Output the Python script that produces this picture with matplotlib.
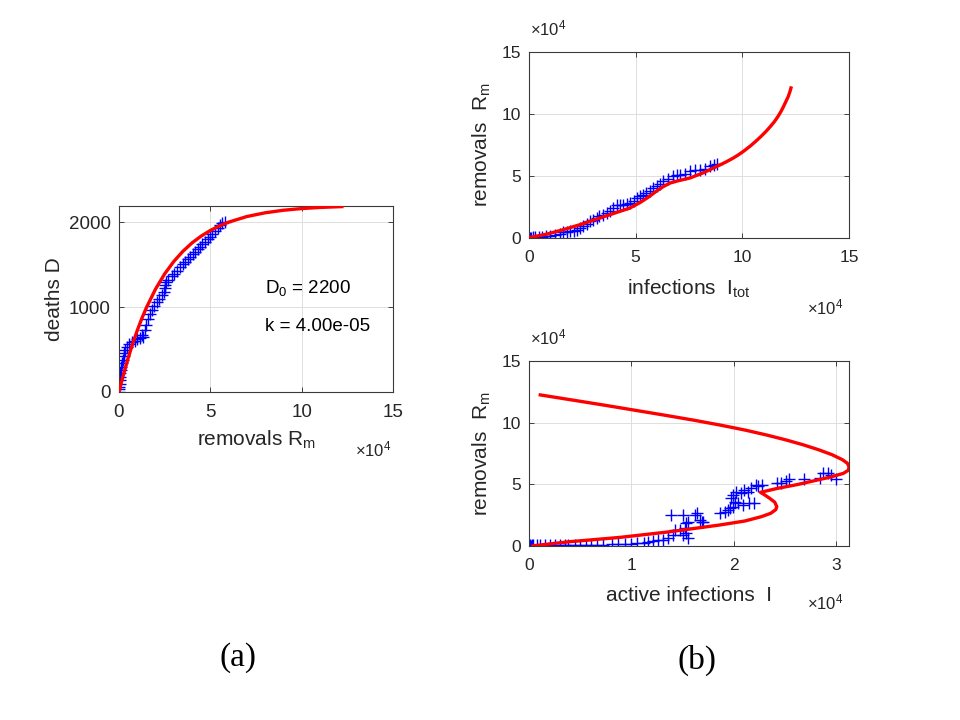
import matplotlib
matplotlib.use("Agg")
import matplotlib.pyplot as plt

plt.rcParams['font.family'] = ['Liberation Sans', 'DejaVu Sans']
plt.rcParams['mathtext.fontset'] = 'custom'
plt.rcParams['mathtext.rm'] = 'Liberation Sans'
plt.rcParams['mathtext.it'] = 'Liberation Sans:italic'

# ---------------- data (x-values in units of 10^4) ----------------
# panel (a): deaths D vs removals Rm
Rm_a = [0.0, 0.01, 0.02, 0.03, 0.04, 0.06, 0.08, 0.10, 0.12, 0.15, 0.20, 0.25, 0.30, 0.35,
        0.45, 0.55, 0.70, 0.85, 1.00, 1.15, 1.24, 1.33, 1.42, 1.50, 1.60, 1.70, 1.80, 1.90,
        2.06, 2.20, 2.34, 2.45, 2.52, 2.52, 2.60, 2.70, 2.88, 3.00, 3.16, 3.34, 3.50, 3.61,
        3.75, 3.89, 4.05, 4.16, 4.30, 4.43, 4.57, 4.71, 4.85, 4.98, 5.10, 5.25, 5.40, 5.53,
        5.65, 5.80]
D_a = [0, 30, 60, 100, 140, 180, 220, 260, 300, 340, 380, 420, 460, 500,
       530, 560, 590, 605, 620, 640, 670, 650, 730, 790, 860, 920, 970, 1010,
       1060, 1100, 1140, 1180, 1220, 1260, 1290, 1320, 1360, 1390, 1420, 1470, 1510, 1535,
       1565, 1590, 1625, 1650, 1680, 1710, 1740, 1770, 1800, 1830, 1860, 1900, 1935, 1965,
       1985, 2005]
Rm_fit_a = [0, 0.1, 0.25, 0.5, 0.75, 1.0, 1.25, 1.5, 2.0, 2.5, 3.0, 3.5, 4.0, 4.5, 5.0,
            5.5, 6.0, 7.0, 8.0, 9.0, 10.0, 11.0, 12.2]
D_fit_a = [0, 86, 209, 399, 570, 725, 866, 993, 1212, 1391, 1537, 1657, 1756, 1836, 1902,
           1956, 2000, 2066, 2110, 2140, 2160, 2173, 2183]

# panel (b) top: removals Rm vs total infections Itot
Itot_b = [0.0, 0.05, 0.10, 0.20, 0.30, 0.45, 0.60, 0.80, 1.00, 1.20, 1.45, 1.61, 1.80, 1.92,
          2.10, 2.23, 2.40, 2.55, 2.70, 2.86, 3.00, 3.17, 3.30, 3.48, 3.65, 3.80, 3.95, 4.11,
          4.25, 4.42, 4.60, 4.73, 4.90, 5.05, 5.20, 5.36, 5.50, 5.67, 5.83, 5.98, 6.15, 6.30,
          6.50, 6.77, 6.95, 7.08, 7.30, 7.55, 7.80, 8.02, 8.25, 8.49, 8.65, 8.80]
Rm_b = [0.0, 0.02, 0.04, 0.05, 0.08, 0.10, 0.12, 0.15, 0.20, 0.25, 0.30, 0.45, 0.50, 0.53,
        0.60, 0.67, 0.80, 0.94, 1.10, 1.34, 1.45, 1.61, 1.75, 1.88, 2.00, 2.15, 2.40, 2.69,
        2.70, 2.69, 2.75, 2.82, 3.00, 3.22, 3.35, 3.49, 3.60, 3.76, 4.03, 4.16, 4.35, 4.57,
        4.75, 4.97, 5.05, 5.11, 5.20, 5.37, 5.45, 5.51, 5.60, 5.78, 5.85, 5.95]
Itot_fit_b = [0.05, 0.8, 1.61, 2.4, 3.17, 3.95, 4.73, 5.2, 5.6, 5.99, 6.3, 6.61, 7.0, 7.55,
              8.2, 8.8, 9.2, 9.555, 9.81, 10.06, 10.36, 10.63, 10.88, 11.11, 11.32, 11.51,
              11.67, 11.81, 11.93, 12.04, 12.15, 12.23, 12.28]
Rm_fit_b = [0.05, 0.3, 0.67, 1.08, 1.53, 1.97, 2.42, 2.85, 3.3, 3.8, 4.15, 4.43, 4.62, 4.84,
            5.28, 5.77, 6.1, 6.43, 6.7, 7.0, 7.4, 7.8, 8.2, 8.6, 9.0, 9.4,
            9.8, 10.2, 10.6, 11.0, 11.4, 11.8, 12.1]

# panel (b) bottom: removals Rm vs active infections I
I_c = [0.0, 0.005, 0.01, 0.02, 0.03, 0.04, 0.075, 0.107, 0.156, 0.205, 0.254, 0.302, 0.351,
       0.38, 0.449, 0.50, 0.56, 0.61, 0.66, 0.72, 0.81, 0.87, 0.94, 1.00, 1.05, 1.12, 1.16,
       1.21, 1.26, 1.31, 1.36, 1.41, 1.424, 1.47, 1.505, 1.52, 1.538, 1.554, 1.538, 1.55,
       1.385, 1.506, 1.62, 1.636, 1.668, 1.685, 1.70, 1.863, 1.91, 1.94, 1.96, 1.99, 2.01,
       2.04, 2.09, 2.15, 2.20, 1.977, 1.99, 2.026, 2.07, 2.10, 2.14, 2.17, 2.22, 2.24, 2.28,
       2.42, 2.46, 2.51, 2.54, 2.69, 2.84, 2.87, 2.92, 2.95, 3.00]
Rm_c = [0.0, 0.02, 0.05, 0.03, 0.08, 0.06, 0.08, 0.08, 0.08, 0.08, 0.08, 0.08, 0.08,
        0.08, 0.10, 0.10, 0.10, 0.12, 0.12, 0.12, 0.15, 0.15, 0.18, 0.20, 0.22, 0.25, 0.35,
        0.43, 0.49, 0.49, 0.62, 0.89, 1.30, 1.30, 0.89, 1.43, 1.03, 0.62, 1.84, 1.97,
        2.51, 2.51, 2.51, 2.65, 2.11, 1.97, 1.97, 2.65, 2.78, 2.92, 3.05, 3.19, 3.60,
        3.46, 3.32, 3.46, 3.46, 3.87, 4.14, 4.41, 4.27, 4.54, 4.41, 4.68, 4.95, 4.86, 4.95,
        5.08, 5.14, 5.30, 5.40, 5.40, 5.49, 5.95, 5.95, 5.76, 5.40]
I_fit_c = [0.04, 0.4, 0.89, 1.38, 1.86, 2.11, 2.27, 2.36, 2.41, 2.42, 2.40, 2.35, 2.30, 2.26,
           2.43, 2.62, 2.79, 2.95, 3.07, 3.12, 3.125, 3.11, 3.06, 2.96, 2.83, 2.68, 2.51,
           2.32, 2.11, 1.87, 1.61, 1.33, 1.04, 0.75, 0.45, 0.11]
Rm_fit_c = [0.02, 0.35, 0.70, 1.16, 1.70, 2.03, 2.38, 2.65, 2.95, 3.19, 3.55, 3.87, 4.15, 4.35,
            4.68, 4.98, 5.30, 5.60, 5.89, 6.15, 6.43, 6.7, 7.0, 7.4, 7.8, 8.2, 8.6,
            9.0, 9.4, 9.8, 10.2, 10.6, 11.0, 11.4, 11.8, 12.25]

D0_text = "D$_0$ = 2200"
k_text = "k = 4.00e-05"

# ---------------- figure ----------------
W, H = 960, 720
fig = plt.figure(figsize=(9.6, 7.2), dpi=100)

def axes_px(l, t, r, b):
    return fig.add_axes([l / W, 1 - b / H, (r - l) / W, (b - t) / H])

AX_COL = '#262626'
BLUE = '#0000ff'
RED = '#ff0000'

def style(ax, tsize):
    ax.grid(True, color='#dedede', lw=0.7)
    ax.set_axisbelow(True)
    for s in ax.spines.values():
        s.set_color('#3a3a3a')
        s.set_linewidth(0.8)
    ax.tick_params(direction='in', length=3.5, width=0.6, top=True, right=True,
                   colors=AX_COL, labelsize=tsize)
    ax.tick_params(axis='x', pad=9)
    ax.tick_params(axis='y', pad=6)

MS = 9

# (a)
axa = axes_px(119, 206, 393, 392)
axa.plot(Rm_a, D_a, '+', color=BLUE, ms=MS, mew=1.0, zorder=2)
axa.plot(Rm_fit_a, D_fit_a, '-', color=RED, lw=2.4, zorder=3, solid_joinstyle='round')
axa.set_xlim(0, 15)
axa.set_ylim(0, 2190)
axa.set_xticks([0, 5, 10, 15])
axa.set_yticks([0, 1000, 2000])
style(axa, 13.5)
axa.set_xlabel('removals R$_\\mathrm{m}$', fontsize=15, color=AX_COL, labelpad=5)
axa.set_ylabel('deaths D', fontsize=15, color=AX_COL, labelpad=3)
axa.text(8.0, 1224, D0_text, fontsize=13.5, va='center', ha='left', color='black')
axa.text(8.0, 770, k_text, fontsize=13.5, va='center', ha='left', color='black')
fig.text(391 / W, 1 - 449 / H, '×10$^4$', fontsize=12, color=AX_COL, ha='right', va='center')

# (b) top
axb = axes_px(529, 52, 849, 238)
axb.plot(Itot_b, Rm_b, '+', color=BLUE, ms=MS, mew=1.0, zorder=2)
axb.plot(Itot_fit_b, Rm_fit_b, '-', color=RED, lw=2.4, zorder=3, solid_joinstyle='round')
axb.set_xlim(0, 15)
axb.set_ylim(0, 15)
axb.set_xticks([0, 5, 10, 15])
axb.set_yticks([0, 5, 10, 15])
style(axb, 12.5)
axb.set_xlabel('infections  I$_\\mathrm{tot}$', fontsize=15, color=AX_COL, labelpad=9)
axb.set_ylabel('removals  R$_\\mathrm{m}$', fontsize=15, color=AX_COL, labelpad=6)
fig.text(843 / W, 1 - 307 / H, '×10$^4$', fontsize=12, color=AX_COL, ha='right', va='center')
fig.text(530 / W, 1 - 38 / H, '×10$^4$', fontsize=12, color=AX_COL, ha='left', va='bottom')

# (b) bottom
axc = axes_px(529, 361, 849, 546)
axc.plot(I_c, Rm_c, '+', color=BLUE, ms=MS, mew=1.0, zorder=2)
axc.plot(I_fit_c, Rm_fit_c, '-', color=RED, lw=2.4, zorder=3, solid_joinstyle='round')
axc.set_xlim(0, 3.125)
axc.set_ylim(0, 15)
axc.set_xticks([0, 1, 2, 3])
axc.set_yticks([0, 5, 10, 15])
style(axc, 12.5)
axc.set_xlabel('active infections  I', fontsize=15, color=AX_COL, labelpad=9)
axc.set_ylabel('removals  R$_\\mathrm{m}$', fontsize=15, color=AX_COL, labelpad=6)
fig.text(843 / W, 1 - 602 / H, '×10$^4$', fontsize=12, color=AX_COL, ha='right', va='center')
fig.text(530 / W, 1 - 347 / H, '×10$^4$', fontsize=12, color=AX_COL, ha='left', va='bottom')

# panel labels
fig.text(238 / W, 1 - 658 / H, '(a)', fontsize=24, family='Liberation Serif', ha='center', va='center')
fig.text(697 / W, 1 - 660 / H, '(b)', fontsize=24, family='Liberation Serif', ha='center', va='center')

fig.savefig('out.png', dpi=100, facecolor='white')
